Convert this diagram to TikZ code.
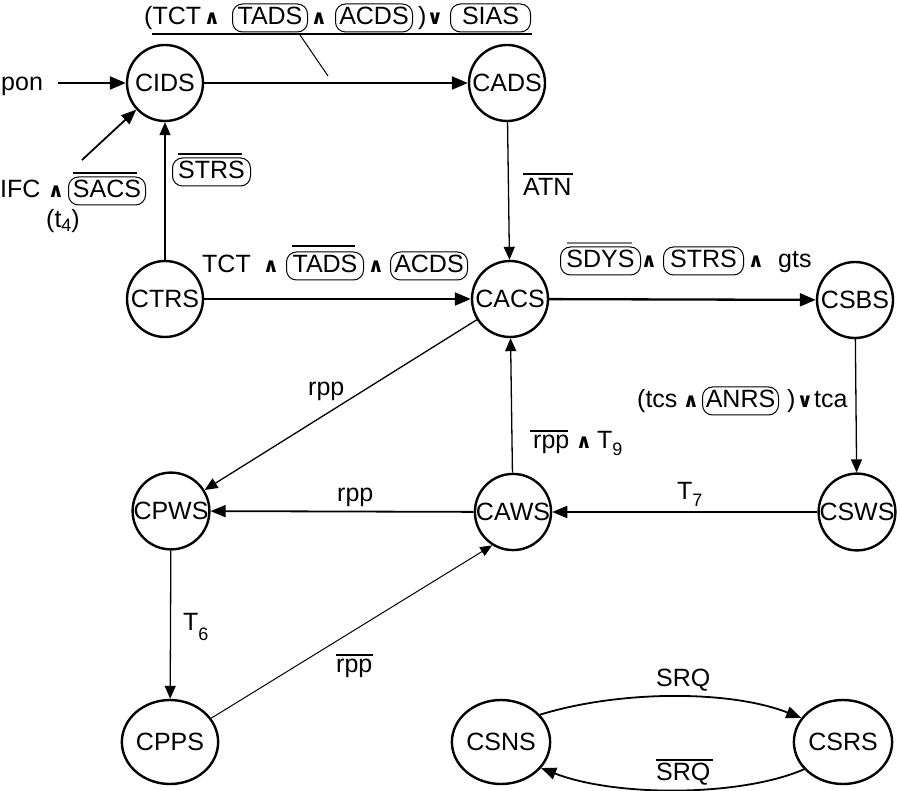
\documentclass[tikz,border=0pt]{standalone}
\usepackage{fontspec}
\setmainfont{Liberation Sans}
\newfontfamily\symf{DejaVu Sans}
\usetikzlibrary{arrows.meta,shapes.geometric}
\newcommand\lab{\fontsize{25}{29}\selectfont}
\newcommand\andf{\symf\bfseries\fontsize{20}{20}\selectfont}
\newcommand\sbs[2]{\raisebox{#1}{\fontsize{18}{18}\selectfont #2}}
\begin{document}
\begin{tikzpicture}[x=1pt,y=-1pt,font=\lab,
  state/.style={circle,draw,line width=2.4pt,minimum size=76pt,inner sep=0pt},
  ellip/.style={ellipse,draw,line width=2.4pt,minimum width=76pt,minimum height=84pt,inner sep=0pt},
  bx/.style={draw,line width=1pt,rounded corners=10pt,inner xsep=2pt,inner ysep=2pt,text height=19pt,text depth=5pt,anchor=base west},
  lbl/.style={anchor=base west,inner sep=0pt},
  op/.style={anchor=base,inner sep=0pt,font=\andf},
  ol/.style={line width=1.2pt},
  thk/.style={line width=2.3pt,-{Triangle[length=16pt,width=13pt]}},
  med/.style={line width=1.8pt,-{Triangle[length=15pt,width=12pt]}},
  thn/.style={line width=1.3pt,-{Triangle[length=13pt,width=11pt]}},
  hair/.style={line width=1pt,-{Triangle[length=12pt,width=10pt]}}]
\useasboundingbox (0,0) rectangle (900,791);

% states
\node[state] (CIDS) at (165,83) {CIDS};
\node[state] (CADS) at (507,83) {CADS};
\node[state] (CTRS) at (165,299) {CTRS};
\node[state] (CACS) at (510,299) {CACS};
\node[state] (CSBS) at (855,300) {CSBS};
\node[state] (CSWS) at (857,512) {CSWS};
\node[state] (CAWS) at (513,512) {CAWS};
\node[state] (CPWS) at (171,511) {CPWS};
\node[ellip] (CPPS) at (170,742) {CPPS};
\node[ellip] (CSNS) at (501,742) {CSNS};
\node[ellip] (CSRS) at (843,742) {CSRS};

% free ends
\coordinate (ponS) at (58,83);
\coordinate (ifcS) at (82,160);
\coordinate (ulA) at (152,34);
\coordinate (ulB) at (532,34);
\coordinate (ldA) at (300,35);
\coordinate (ldB) at (328,76);

% connectors
\draw[thk] (ponS) -- (CIDS);
\draw[med] (ifcS) -- (CIDS);
\draw[thk] (CIDS) -- (CADS);
\draw[thn] (CTRS) -- (CIDS);
\draw[thn] (CADS) -- (CACS);
\draw[thk] (CTRS) -- (CACS);
\draw[thk] (CACS) -- (CSBS);
\draw[thn] (CSBS) -- (CSWS);
\draw[med] (CSWS) -- (CAWS);
\draw[thn] (CAWS) -- (CACS);
\draw[thn] (CACS) -- (CPWS);
\draw[med] (CAWS) -- (CPWS);
\draw[thn] (CPWS) -- (CPPS);
\draw[hair] (CPPS.30) -- (CAWS.238);
\draw[med] (CSNS.35) .. controls (620,690) and (730,690) .. (CSRS.150);
\draw[med] (CSRS.215) .. controls (740,797) and (615,797) .. (CSNS.-33);

% top annotation
\draw[line width=1.2pt] (ulA) -- (ulB);
\draw[line width=1pt] (ldA) -- (ldB);
\node[lbl] (t1) at (144,25) {(TCT};
\node[op] (t2) at (212,25) {∧};
\node[bx,minimum width=75pt] (t3) at (232,25) {TADS};
\node[op] (t4) at (319,25) {∧};
\node[bx,minimum width=77pt] (t5) at (335,25) {ACDS};
\node[lbl] (t6) at (418,25) {)};
\node[op] (t7) at (435,25) {∨};
\node[bx,minimum width=80pt] (t8) at (450,25) {SIAS};

% pon
\node[lbl] (p1) at (1,91) {pon};

% IFC label
\node[lbl] (i1) at (0,198) {IFC};
\node[op] (i2) at (56,198) {∧};
\node[bx,minimum width=77pt] (i3) at (68,198) {SACS};
\draw[ol] (73,173) -- (137,173);
\node[lbl] (i4) at (46,228) {(t\sbs{-4pt}{4})};

% STRS on CTRS->CIDS
\node[bx,minimum width=78pt] (s1) at (172,179) {STRS};
\draw[ol] (178,154) -- (242,154);

% ATN
\node[lbl] (a1) at (523,196) {ATN};
\draw[ol] (523,174) -- (573,174);

% CTRS -> CACS label
\node[lbl] (c1) at (202,273) {TCT};
\node[op] (c2) at (271,273) {∧};
\node[bx,minimum width=77pt] (c3) at (286,273) {TADS};
\draw[ol] (292,246) -- (355,246);
\node[op] (c4) at (376,273) {∧};
\node[bx,minimum width=77pt] (c5) at (390,273) {ACDS};

% CACS -> CSBS label
\node[bx,minimum width=80pt] (d1) at (560,268) {SDYS};
\draw[ol,gray] (567,243) -- (632,243);
\node[op] (d2) at (649,268) {∧};
\node[bx,minimum width=80pt] (d3) at (663,268) {STRS};
\node[op] (d4) at (756,268) {∧};
\node[lbl] (d5) at (778,268) {gts};

% CSBS -> CSWS label
\node[lbl] (e1) at (637,408) {(tcs};
\node[op] (e2) at (691,408) {∧};
\node[bx,minimum width=76pt] (e3) at (702,408) {ANRS};
\node[lbl] (e4) at (787,408) {)};
\node[op] (e5) at (805,408) {∨};
\node[lbl] (e6) at (814,408) {tca};

% CAWS -> CACS label
\node[lbl] (f1) at (533,449) {rpp};
\draw[ol] (530,431) -- (568,431);
\node[op] (f2) at (584,449) {∧};
\node[lbl] (f3) at (597,449) {T\sbs{-7pt}{9}};

% other labels
\node[lbl] (g1) at (677,500) {T\sbs{-7pt}{7}};
\node[lbl] (g2) at (183,630) {T\sbs{-10pt}{6}};
\node[lbl] (h1) at (308,396) {rpp};
\node[lbl] (h2) at (337,501) {rpp};
\node[lbl] (h3) at (336,672) {rpp};
\draw[ol] (336,655) -- (373,655);
\node[lbl] (k1) at (656,686) {SRQ};
\node[lbl] (k2) at (656,780) {SRQ};
\draw[ol] (656,760) -- (713,760);
\end{tikzpicture}
\end{document}
